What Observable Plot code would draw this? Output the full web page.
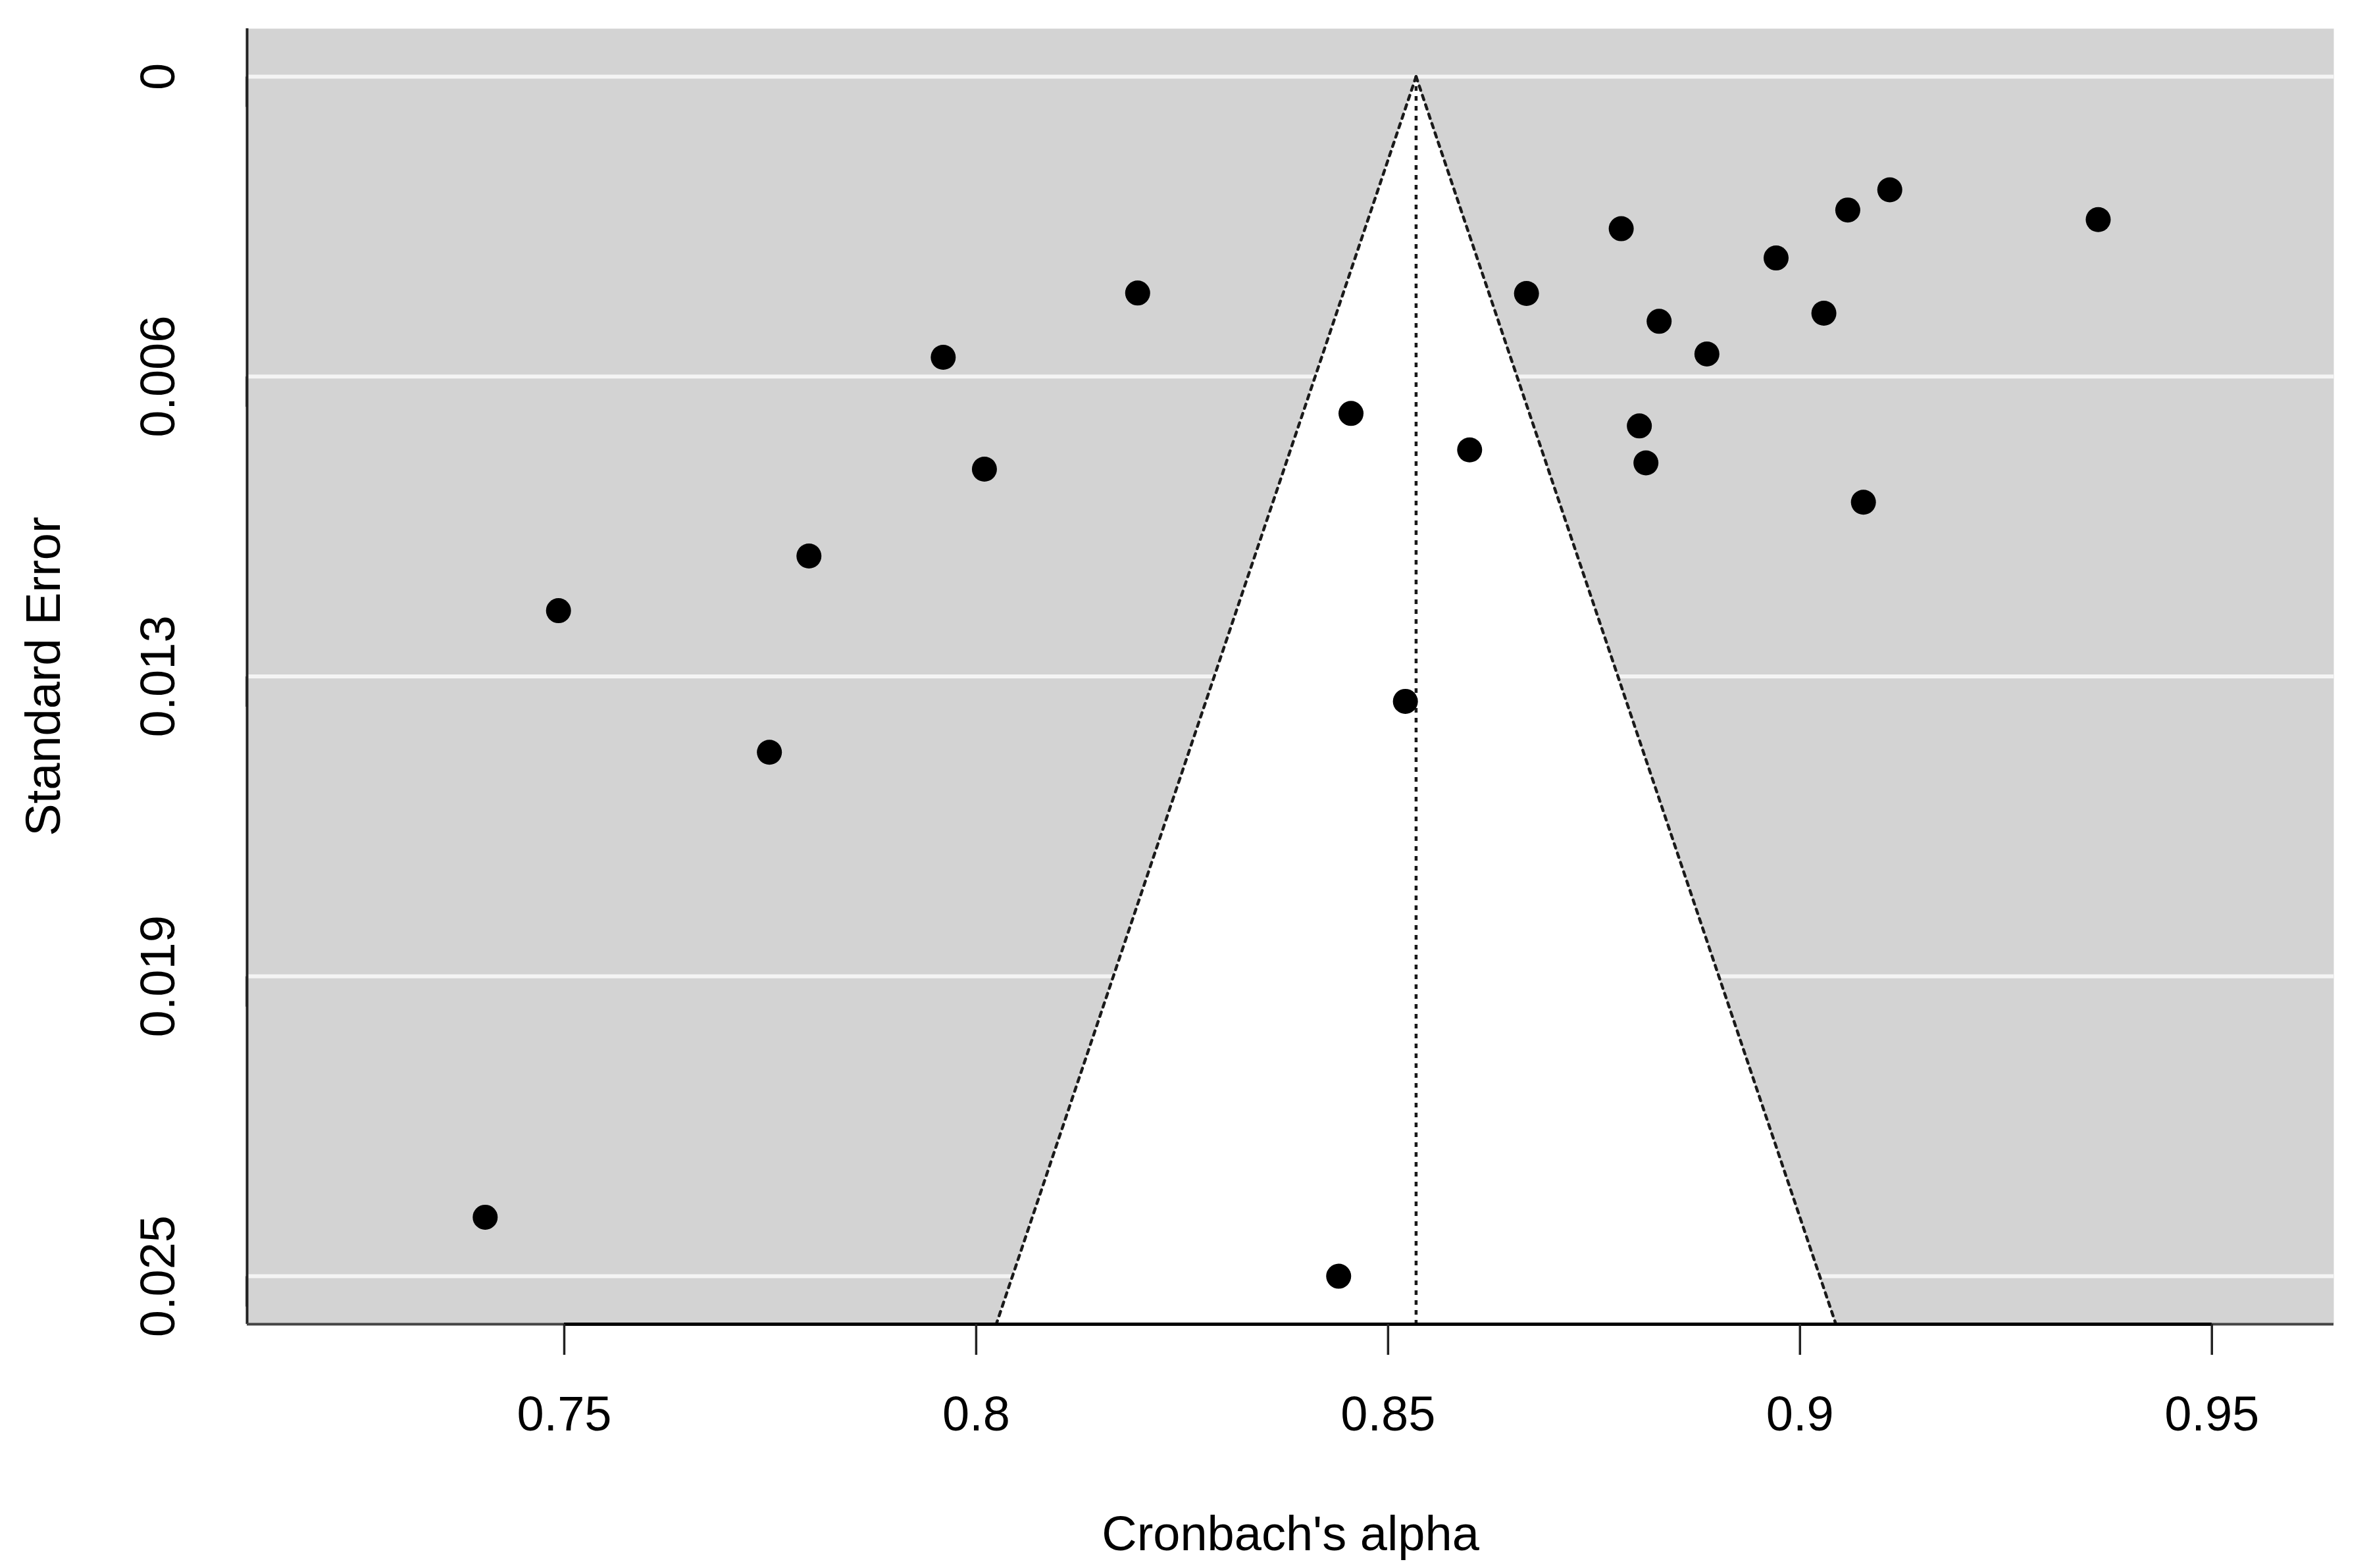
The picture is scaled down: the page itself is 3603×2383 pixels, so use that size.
<!DOCTYPE html>
<html>
<head>
<meta charset="utf-8">
<script src="https://cdn.jsdelivr.net/npm/d3@7"></script>
<script src="https://cdn.jsdelivr.net/npm/@observablehq/plot@0.6"></script>
<style>
  html, body { margin: 0; padding: 0; background: #ffffff; }
  #chart svg { display: block; }
</style>
</head>
<body>
<div id="chart"></div>
<script>
// Study-level Cronbach's alpha and standard errors
const alphaValues = [0.7404, 0.7493, 0.7749, 0.7797, 0.7960, 0.8010, 0.8196, 0.8440, 0.8455, 0.8521, 0.8599, 0.8668, 0.8783, 0.8805, 0.8813, 0.8829, 0.8887, 0.8971, 0.9029, 0.9058, 0.9077, 0.9109, 0.9362];
const seValues    = [0.02377, 0.01113, 0.01408, 0.00999, 0.00585, 0.00818, 0.00451, 0.02500, 0.00702, 0.01302, 0.00778, 0.00452, 0.00317, 0.00728, 0.00805, 0.00510, 0.00578, 0.00378, 0.00493, 0.00278, 0.00887, 0.00236, 0.00298];

// Pooled estimate (apex of the funnel)
const pooledAlpha = 0.8534;

// Axis ticks and labels
const xTicks = [0.75, 0.8, 0.85, 0.9, 0.95];
const xTickLabels = ["0.75", "0.8", "0.85", "0.9", "0.95"];
const yTicks = [0, 0.00625, 0.0125, 0.01875, 0.025];
const yTickLabels = ["0", "0.006", "0.013", "0.019", "0.025"];

const xLabel = "Cronbach's alpha";
const yLabel = "Standard Error";

// Axis extents (R-style 4% expansion)
const xDomain = [0.7115, 0.9648];
const yDomain = [-0.001, 0.026];

const points = alphaValues.map((a, i) => ({alpha: a, se: seValues[i]}));
const seMax = yDomain[1];
const funnel = [
  {se: 0, lo: pooledAlpha, hi: pooledAlpha},
  {se: seMax, lo: pooledAlpha - 1.96 * seMax, hi: pooledAlpha + 1.96 * seMax}
];

const fontSize = 74;
const dotted = {stroke: "#1a1a1a", strokeWidth: 4.5, strokeDasharray: "7,8"};

const chart = Plot.plot({
  width: 3603,
  height: 2383,
  marginLeft: 375,
  marginRight: 57,
  marginTop: 43,
  marginBottom: 371,
  style: {
    fontFamily: "'Liberation Sans', Arial, sans-serif",
    fontSize: fontSize + "px",
    background: "#ffffff",
    color: "#000000"
  },
  x: {domain: xDomain},
  y: {domain: yDomain, reverse: true},
  marks: [
    Plot.frame({fill: "#d3d3d3", stroke: null}),
    Plot.ruleY(yTicks, {stroke: "#f4f4f4", strokeWidth: 6}),
    Plot.areaX(funnel, {y: "se", x1: "lo", x2: "hi", fill: "#ffffff"}),
    Plot.line(funnel, {x: "lo", y: "se", ...dotted}),
    Plot.line(funnel, {x: "hi", y: "se", ...dotted}),
    Plot.ruleX([pooledAlpha], {y1: 0, y2: seMax, ...dotted}),
    Plot.dot(points, {x: "alpha", y: "se", r: 19, fill: "#000000", stroke: null}),
    // L-shaped box edges
    Plot.ruleX([xDomain[0]], {stroke: "#222", strokeWidth: 4}),
    Plot.ruleY([yDomain[1]], {stroke: "#444", strokeWidth: 4}),
    Plot.ruleY([yDomain[1]], {x1: xTicks[0], x2: xTicks[xTicks.length - 1], stroke: "#000", strokeWidth: 5}),
    Plot.axisX({
      ticks: xTicks,
      tickFormat: d => xTickLabels[xTicks.indexOf(d)],
      tickSize: 47,
      tickPadding: 62,
      strokeWidth: 3.5,
      stroke: "#222",
      fontSize: fontSize,
      label: xLabel,
      labelAnchor: "center",
      labelArrow: "none",
      labelOffset: 343
    }),
    Plot.axisY({
      ticks: yTicks,
      tickFormat: d => yTickLabels[yTicks.indexOf(d)],
      tickSize: 46,
      tickPadding: 88,
      strokeWidth: 3.5,
      stroke: "#222",
      rotate: -90,
      textAnchor: "middle",
      fontSize: fontSize,
      label: yLabel,
      labelAnchor: "center",
      labelArrow: "none",
      labelOffset: 337
    })
  ]
});

document.getElementById("chart").appendChild(chart);
</script>
</body>
</html>
